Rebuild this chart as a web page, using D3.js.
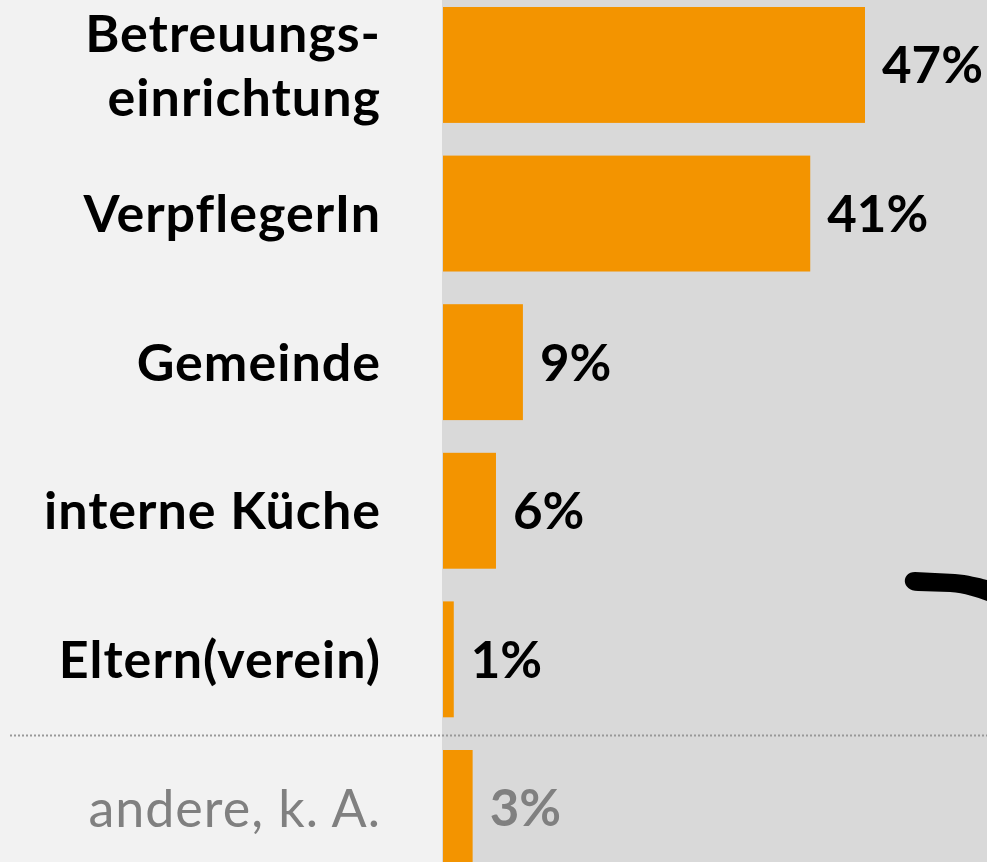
<!DOCTYPE html>
<html>
<head>
<meta charset="utf-8">
<script src="https://cdn.jsdelivr.net/npm/d3@7"></script>
<style>
  body { margin: 0; background: #f2f2f2; }
  svg { display: block; }
</style>
</head>
<body>
<div id="chart"></div>
<script>
// data
var categories = ["Betreuungs-\neinrichtung", "VerpflegerIn", "Gemeinde", "interne Küche", "Eltern(verein)", "andere, k. A."];
var values = [47, 40.9, 8.9, 5.9, 1.2, 3.3];
var muted = [false, false, false, false, false, true];

var width = 987, height = 862;
var splitX = 442;

var svg = d3.select("#chart").append("svg")
    .attr("width", width)
    .attr("height", height);

// backgrounds
svg.append("rect").attr("x", 0).attr("y", 0).attr("width", splitX).attr("height", height).attr("fill", "#f2f2f2");
svg.append("rect").attr("x", splitX).attr("y", 0).attr("width", width - splitX).attr("height", height).attr("fill", "#d9d9d9");

var x = d3.scaleLinear()
    .domain([0, 47])
    .range([0, 422]);

var y = d3.scaleBand()
    .domain(categories)
    .range([7, 7 + 148.6 * (categories.length - 0.22)])
    .paddingInner(0.22)
    .paddingOuter(0);

var fmt = d3.format(".0f");

var rows = categories.map(function(c, i) {
    return {name: c, value: values[i], muted: muted[i]};
});

// bars
svg.selectAll(".bar")
    .data(rows)
    .enter().append("rect")
    .attr("class", "bar")
    .attr("x", splitX + 1)
    .attr("y", function(d) { return y(d.name); })
    .attr("width", function(d) { return x(d.value); })
    .attr("height", y.bandwidth())
    .attr("fill", "#f39400");

// value labels
svg.selectAll(".val")
    .data(rows)
    .enter().append("text")
    .attr("class", "val")
    .attr("x", function(d) { return splitX + 1 + x(d.value) + 17; })
    .attr("y", function(d) { return y(d.name) + y.bandwidth() / 2; })
    .attr("dy", "0.36em")
    .style("font-family", "Lato, 'Open Sans', sans-serif")
    .style("font-weight", "bold")
    .style("font-size", "51px")
    .attr("fill", function(d) { return d.muted ? "#808080" : "#000"; })
    .text(function(d) { return fmt(d.value) + "%"; });

// category labels (may be split in lines)
var lab = svg.selectAll(".lab")
    .data(rows)
    .enter().append("text")
    .attr("class", "lab")
    .attr("text-anchor", "end")
    .style("font-family", "Lato, 'Open Sans', sans-serif")
    .style("font-weight", function(d) { return d.muted ? "normal" : "bold"; })
    .style("font-size", "52px")
    .style("letter-spacing", "1px")
    .attr("fill", function(d) { return d.muted ? "#808080" : "#000"; });

lab.each(function(d) {
    var lines = d.name.split("\n");
    var cy = y(d.name) + y.bandwidth() / 2;
    var lh = 64;
    d3.select(this).selectAll("tspan")
        .data(lines)
        .enter().append("tspan")
        .attr("x", 381)
        .attr("y", function(l, i) { return cy + (i - (lines.length - 1) / 2) * lh; })
        .attr("dy", "0.36em")
        .text(function(l) { return l; });
});

// dotted separator
svg.append("line")
    .attr("x1", 10).attr("x2", width)
    .attr("y1", 735.5).attr("y2", 735.5)
    .attr("stroke", "#999")
    .attr("stroke-width", 2)
    .attr("stroke-dasharray", "2,2");

// brush stroke arrow (cut off at right edge)
svg.append("path")
    .attr("d", "M915,572 L955,574 C968,575 979,578 987,580 L987,601 C976,597 965,593 950,592 L918,591 C901,591 901,572 915,572 Z")
    .attr("fill", "#000");
</script>
</body>
</html>
